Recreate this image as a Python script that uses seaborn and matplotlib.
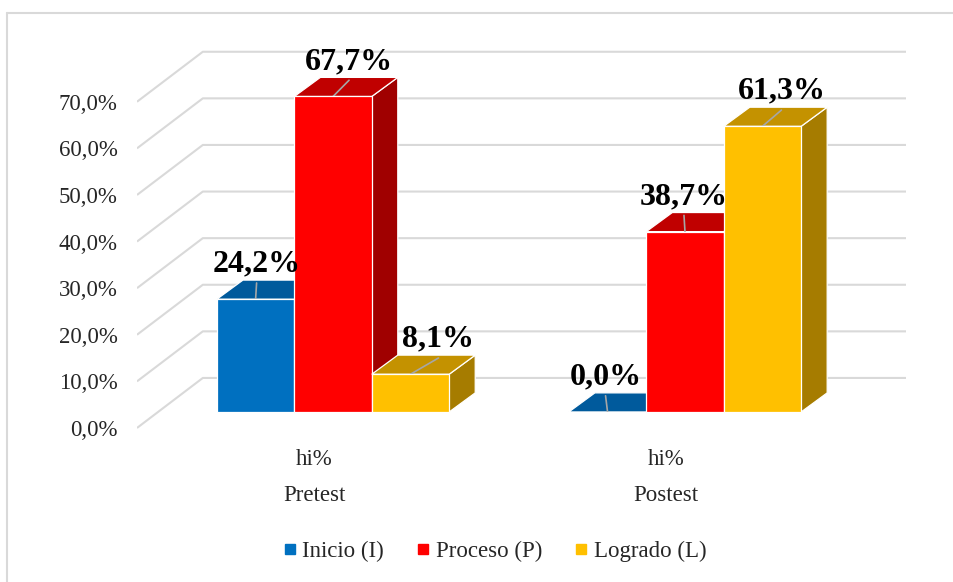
import pandas as pd
import seaborn as sn
import matplotlib.pyplot as plt
from matplotlib.patches import Polygon
from matplotlib.lines import Line2D
from matplotlib.transforms import ScaledTranslation

# Data
grupos = ["Pretest", "Postest"]
niveles = ["Inicio (I)", "Proceso (P)", "Logrado (L)"]
pretest = [24.2, 67.7, 8.1]
postest = [0.0, 38.7, 61.3]
yticks = [0, 10, 20, 30, 40, 50, 60, 70]

# Colors (front, top, side)
front_colors = ["#0070C0", "#FF0000", "#FFC000"]
top_colors = ["#005A9C", "#C00000", "#C49200"]
side_colors = ["#004F8A", "#A00000", "#A67C00"]

df = pd.DataFrame({
    "grupo": [g for g in grupos for _ in niveles],
    "nivel": niveles * 2,
    "valor": pretest + postest,
})

sn.set_style("white")
plt.rcParams["font.family"] = ["Liberation Serif", "DejaVu Serif"]

fig = plt.figure(figsize=(9.54, 5.82), dpi=100)
ax = fig.add_axes([0.1436, 0.2521, 0.8061, 0.6966])

sn.barplot(data=df, x="grupo", y="valor", hue="nivel", palette=front_colors,
           width=0.66, saturation=1, edgecolor="white", linewidth=0.9,
           legend=False, ax=ax)

xl = (-0.557, 1.628)
ax.set_xlim(*xl)
ax.set_ylim(-5, 82)

# 3D look: depth offset of bars, wall offsets (data units)
dx, dy = 0.074, 4.1
front_off, wall_off, wall_x = -3.43, 7.3, -0.37

# back wall grid lines
for v in yticks:
    ax.plot([xl[0], wall_x, xl[1]], [v + front_off, v + wall_off, v + wall_off],
            color="#d9d9d9", lw=1.5, zorder=0, solid_capstyle="butt")

# label nudges in pixels (style)
label_nudge = {("Pretest", 0): 1, ("Pretest", 1): 16, ("Pretest", 2): 28,
               ("Postest", 0): -2, ("Postest", 1): -1, ("Postest", 2): 19}

for k, cont in enumerate(ax.containers):
    for g, bar in enumerate(cont):
        x0 = bar.get_x()
        w = bar.get_width()
        h = bar.get_height()
        x1 = x0 + w
        bar.set_zorder(3 + 2 * k)
        top = Polygon([(x0, h), (x1, h), (x1 + dx, h + dy), (x0 + dx, h + dy)],
                      closed=True, facecolor=top_colors[k], edgecolor="white",
                      lw=0.9, zorder=2 + 2 * k)
        side = Polygon([(x1, 0), (x1 + dx, dy), (x1 + dx, h + dy), (x1, h)],
                       closed=True, facecolor=side_colors[k], edgecolor="white",
                       lw=0.9, zorder=2 + 2 * k)
        ax.add_patch(side)
        ax.add_patch(top)

        xc = x0 + w / 2
        lx = xc + label_nudge[(grupos[g], k)] / 352
        ax.plot([xc, lx], [h, h + dy * 0.85], color="#a6a6a6", lw=1.2,
                zorder=2 + 2 * k + 0.5)
        txt = f"{h:.1f}%".replace(".", ",")
        ax.text(lx, h + dy + 0.3, txt, ha="center", va="bottom",
                fontsize=23, fontweight="bold", color="black", zorder=20)

# axes cosmetics
sn.despine(ax=ax, left=True, bottom=True)
ax.set_xlabel("")
ax.set_ylabel("")
ax.set_yticks([v + front_off for v in yticks])
ax.set_yticklabels([f"{v:.1f}%".replace(".", ",") for v in yticks], fontsize=16.5)
ax.tick_params(axis="y", length=0, pad=14)
ax.set_xticks([0, 1])
ax.set_xticklabels([f"hi%\n{g}" for g in grupos], fontsize=16.5, linespacing=1.9)
ax.tick_params(axis="x", length=0, pad=10)
shift = ScaledTranslation(-0.19, 0, fig.dpi_scale_trans)
for lab in ax.get_xticklabels():
    lab.set_transform(lab.get_transform() + shift)

# legend
handles = [Line2D([], [], marker="s", ls="", color=c, markersize=7) for c in front_colors]
fig.legend(handles, niveles, loc="center", bbox_to_anchor=(0.516, 0.053), ncol=3,
           frameon=False, fontsize=16.5, handletextpad=0.05, columnspacing=1.2,
           handlelength=1.0)

# outer chart border
fig.add_artist(Line2D([7 / 954, 7 / 954], [0, 1 - 13 / 582], color="#d9d9d9", lw=1.5))
fig.add_artist(Line2D([7 / 954, 1], [1 - 13 / 582, 1 - 13 / 582], color="#d9d9d9", lw=1.5))

fig.savefig("out.png", dpi=100)
